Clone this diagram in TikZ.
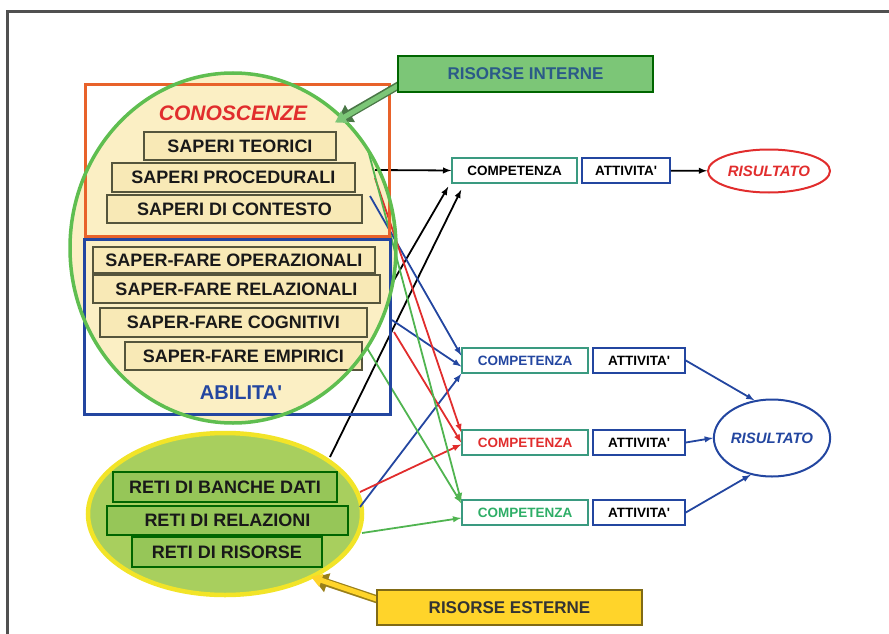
\documentclass[tikz,border=0pt]{standalone}
\usepackage{fontspec}
\setmainfont{Liberation Sans}
\usepackage{tikz}
\usetikzlibrary{arrows, arrows.meta, shapes}
\definecolor{cornice}{RGB}{80,80,80}
\definecolor{crema}{RGB}{251,239,196}
\definecolor{cremabox}{RGB}{248,233,182}
\definecolor{bordobox}{RGB}{85,85,60}
\definecolor{arancio}{RGB}{232,98,42}
\definecolor{verdecerchio}{RGB}{95,190,80}
\definecolor{bluabil}{RGB}{35,70,160}
\definecolor{verderete}{RGB}{168,207,94}
\definecolor{verdebox}{RGB}{150,198,88}
\definecolor{giallo}{RGB}{242,228,40}
\definecolor{verdeint}{RGB}{124,198,119}
\definecolor{testoint}{RGB}{43,90,136}
\definecolor{gialloest}{RGB}{255,212,42}
\definecolor{petrolio}{RGB}{58,154,128}
\definecolor{rosso}{RGB}{225,45,45}
\definecolor{verdefreccia}{RGB}{80,180,80}

\begin{document}
\begin{tikzpicture}[x=1pt, y=-1pt,
			>=latex,   % punte di freccia
			sapere/.style={draw=bordobox, line width=1.8pt, fill=cremabox, inner sep=0pt, text=black!90, font=\fontsize{18}{20}\selectfont\bfseries},
			rete/.style={sapere, fill=verdebox, draw=black!60!green},
			comp/.style={draw=petrolio, line width=1.6pt, fill=white, minimum width=126, minimum height=25, inner sep=0pt, font=\fontsize{13.5}{15}\selectfont\bfseries},
			att/.style={comp, draw=bluabil, minimum width=90},
			esito/.style={ellipse, line width=2pt, inner sep=0pt, font=\fontsize{15}{17}\selectfont\bfseries\itshape},
			freccia/.style={->, line width=1.8pt}]
			\useasboundingbox (0,0) rectangle (889,634);
			% cornice
			\draw[cornice, line width=3pt] (7,634) -- (7,12) -- (889,12);
			% sfondi
			\fill[crema] (233,248) ellipse [x radius=163, y radius=175];
			\draw[giallo, line width=4.5pt, fill=verderete] (225,514) ellipse [x radius=137, y radius=81];
			% conoscenze
			\node[text=rosso, font=\fontsize{21}{24}\selectfont\bfseries\itshape] (conoscenze) at (233,113) {CONOSCENZE};
			\node[sapere, minimum width=192, minimum height=28] (teorici) at (240,146) {SAPERI TEORICI};
			\node[sapere, minimum width=243, minimum height=29] (procedurali) at (233.5,177.5) {SAPERI PROCEDURALI};
			\node[sapere, minimum width=255, minimum height=28] (contesto) at (234.5,209) {SAPERI DI CONTESTO};
			% abilita
			\node[sapere, minimum width=282, minimum height=26] (operazionali) at (234,260) {SAPER-FARE OPERAZIONALI};
			\node[sapere, minimum width=287, minimum height=28] (relazionali) at (236.5,289) {SAPER-FARE RELAZIONALI};
			\node[sapere, minimum width=267, minimum height=29] (cognitivi) at (233.5,322.5) {SAPER-FARE COGNITIVI};
			\node[sapere, minimum width=237, minimum height=28] (empirici) at (243.5,356) {SAPER-FARE EMPIRICI};
			\node[text=bluabil, font=\fontsize{20}{22}\selectfont\bfseries] (abilita) at (241,393) {ABILITA\textquotesingle};
			% reti
			\node[rete, minimum width=224, minimum height=30] (banche) at (225,487) {RETI DI BANCHE DATI};
			\node[rete, minimum width=241, minimum height=29] (relazioni) at (227.5,520.5) {RETI DI RELAZIONI};
			\node[rete, minimum width=190, minimum height=30] (risorse) at (227,552) {RETI DI RISORSE};
			% competenze e attivita
			\node[comp, minimum width=125] (comp1) at (514.5,170.5) {COMPETENZA};
			\node[att, minimum width=88] (att1) at (626,170.5) {ATTIVITA\textquotesingle};
			\node[esito, draw=rosso, text=rosso, minimum width=122, minimum height=43] (ris1) at (769,171) {RISULTATO};
			\node[comp, text=bluabil] (comp2) at (525,360.5) {COMPETENZA};
			\node[att, minimum width=92] (att2) at (639,360.5) {ATTIVITA\textquotesingle};
			\node[comp, text=rosso] (comp3) at (525,442.5) {COMPETENZA};
			\node[att, minimum width=92] (att3) at (639,442.5) {ATTIVITA\textquotesingle};
			\node[comp, text=petrolio!80!green] (comp4) at (525,512.5) {COMPETENZA};
			\node[att, minimum width=92] (att4) at (639,512.5) {ATTIVITA\textquotesingle};
			\node[esito, draw=bluabil, text=bluabil, minimum width=112, minimum height=77] (ris2) at (772,438) {RISULTATO};
			% punti di partenza
			\coordinate (k1) at (375,170);
			\coordinate (k2) at (390,287);
			\coordinate (k3) at (330,457);
			\coordinate (k4) at (370,196);
			\coordinate (k5) at (392,320);
			\coordinate (k6) at (360,507);
			\coordinate (k7) at (375,178);
			\coordinate (k8) at (394,332);
			\coordinate (k9) at (360,492);
			\coordinate (k10) at (368,150);
			\coordinate (k11) at (367,348);
			\coordinate (k12) at (362,533);
			% collegamenti
			\draw[freccia, black] (k1) -- (comp1.west);
			\draw[freccia, black] (k2) -- ([xshift=-3pt,yshift=-3pt]comp1.south west);
			\draw[freccia, black] (k3) -- ([xshift=10pt,yshift=-6pt]comp1.south west);
			\draw[freccia, bluabil] (k4) -- ([yshift=5pt]comp2.west);
			\draw[freccia, bluabil] (k5) -- ([yshift=-6pt]comp2.west);
			\draw[freccia, bluabil] (k6) -- (comp2.south west);
			\draw[freccia, rosso] (k7) -- ([yshift=-3pt]comp3.north west);
			\draw[freccia, rosso] (k8) -- (comp3.west);
			\draw[freccia, rosso] (k9) -- ([yshift=-2pt]comp3.west);
			\draw[freccia, verdefreccia] (k10) -- ([yshift=-2pt]comp4.north west);
			\draw[freccia, verdefreccia] (k11) -- ([yshift=-4pt]comp4.north west);
			\draw[freccia, verdefreccia] (k12) -- ([yshift=-5.5pt]comp4.west);
			\draw[freccia, black] (att1) -- (ris1);
			\draw[freccia, bluabil] (att2.east) -- (ris2.115);
			\draw[freccia, bluabil] (att3.east) -- (ris2.west);
			\draw[freccia, bluabil] (att4.east) -- (ris2.-120);
			% riquadri
			\draw[arancio, line width=3pt] (85,85) rectangle (389,236);
			\draw[bluabil, line width=3pt] (84,239) rectangle (390,414);
			\draw[verdecerchio, line width=3.5pt] (233,248) ellipse [x radius=163, y radius=175];
			% risorse
			\coordinate (puntaint) at (337,121);
			\coordinate (puntaest) at (313,578);
			\draw[-{Triangle[width=19pt,length=15pt]}, line width=8pt, verdeint!60!black] (420,73) -- (puntaint);
			\draw[-{Triangle[width=13pt,length=11pt]}, line width=5pt, verdeint] (420,73) -- ([xshift=-2pt,yshift=-1.5pt]puntaint);
			\draw[-{Triangle[width=19pt,length=15pt]}, line width=8pt, gialloest!60!black] (400,607) -- (puntaest);
			\draw[-{Triangle[width=13pt,length=11pt]}, line width=5pt, gialloest] (400,607) -- ([xshift=-2pt,yshift=1.2pt]puntaest);
			\node[draw=black!60!green, line width=1.5pt, fill=verdeint, minimum width=255, minimum height=36, text=testoint, font=\fontsize{17}{19}\selectfont\bfseries] (interne) at (525.5,74) {RISORSE INTERNE};
			\node[draw=gialloest!50!black, line width=1.5pt, fill=gialloest, minimum width=265, minimum height=35, text=black!80, font=\fontsize{17}{19}\selectfont\bfseries] (esterne) at (509.5,607.5) {RISORSE ESTERNE};
		\end{tikzpicture}
\end{document}
